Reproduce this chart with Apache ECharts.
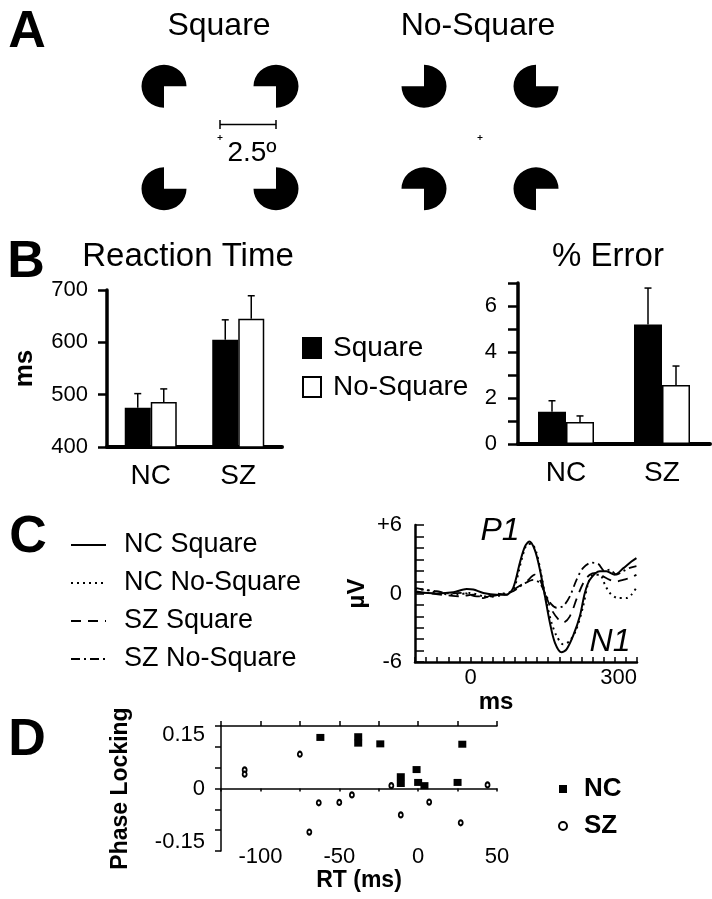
<!DOCTYPE html>
<html>
<head>
<meta charset="utf-8">
<script src="https://cdn.jsdelivr.net/npm/echarts@6/dist/echarts.min.js"></script>
<style>
html, body { margin: 0; padding: 0; background: #fff; }
#main { width: 712px; height: 899px; }
</style>
</head>
<body>
<div id="main"></div>
<script>
// ---- A: stimuli (positions in degrees of visual angle) ----
const pacmanX = [-2.5, 2.5, -2.5, 2.5];
const pacmanY = [2.5, 2.5, -2.5, -2.5];
const squareNotches = ['br', 'bl', 'tr', 'tl'];   // wedges point inward
const noSquareNotches = ['tl', 'tr', 'bl', 'br']; // wedges point outward
const fixation = [[0, 0]];
const scaleBar = [[0, 0.63], [2.5, 0.63]];

// ---- B: behaviour ----
const groups = ['NC', 'SZ'];
const rtSquare = [475, 605];
const rtNoSquare = [486, 645];
const rtSquareSem = [27, 38];
const rtNoSquareSem = [25, 44];
const errSquare = [1.4, 5.2];
const errNoSquare = [0.96, 2.57];
const errSquareSem = [0.48, 1.58];
const errNoSquareSem = [0.26, 0.82];

// ---- C: ERPs, [ms, µV] ----
const ncSquareErp = [[-100, 0.1], [-61, 0], [-31, 0.1], [-7, 0.4], [5, 0.35], [23, 0.05], [47, -0.1], [65, -0.1], [77, 0.5], [89, 2.7], [98, 4.1], [106, 4.55], [116, 3.8], [125, 2.1], [134, -0.2], [143, -2.55], [152, -4.3], [164, -5.15], [173, -4.9], [185, -3.7], [197, -2.0], [206, 0.05], [215, 1.2], [233, 1.95], [245, 1.95], [260, 1.65], [275, 2.2], [290, 2.8], [299, 3.1]];
const ncNoSquareErp = [[-100, 0.4], [-79, 0.3], [-55, 0], [-25, -0.1], [-1, 0.05], [29, -0.3], [59, -0.1], [77, 0.35], [92, 2.95], [101, 4.25], [110, 4.35], [119, 3.55], [128, 1.5], [137, -0.8], [146, -2.55], [155, -3.7], [167, -4.45], [179, -4.15], [191, -3.1], [203, -1.1], [212, 0.9], [221, 1.65], [233, 1.65], [242, 0.8], [251, 0.05], [266, -0.4], [281, -0.4], [290, -0.1], [299, 0.5]];
const szSquareErp = [[-100, 0.2], [-73, 0], [-43, -0.15], [-19, -0.25], [5, -0.1], [23, -0.4], [47, 0], [65, -0.1], [83, 0.5], [101, 1.05], [116, 1.65], [125, 1.2], [134, 0.05], [146, -1.4], [158, -2.25], [167, -2.55], [179, -2.0], [191, -0.5], [203, 0.9], [215, 1.65], [227, 1.8], [239, 1.5], [251, 1.2], [263, 1.05], [275, 1.2], [287, 1.35], [299, 1.65]];
const szNoSquareErp = [[-100, 0.5], [-85, 0.35], [-61, 0.2], [-37, 0], [-13, 0.05], [11, -0.25], [35, -0.25], [59, 0], [77, 0.2], [95, 0.8], [113, 1.2], [125, 0.9], [137, -0.25], [146, -0.95], [155, -1.25], [167, -1.1], [179, -0.25], [191, 1.2], [203, 2.25], [218, 2.7], [230, 2.6], [242, 1.95], [251, 2.1], [263, 1.65], [275, 1.95], [287, 2.25], [299, 2.4]];

// ---- D: phase locking vs RT difference, [ms, value] ----
const ncPoints = [[-62, 0.143], [-38, 0.145], [-38, 0.127], [-24, 0.125], [-11, 0.033], [-11, 0.014], [-1, 0.053], [0, 0.017], [4, 0.008], [25, 0.017], [28, 0.124]];
const szPoints = [[-110, 0.052], [-110, 0.040], [-75, 0.096], [-69, -0.122], [-63, -0.040], [-50, -0.039], [-42, -0.018], [-17, 0.008], [-11, -0.074], [7, -0.038], [27, -0.096], [44, 0.010]];
const phaseTicks = [-0.175, -0.1167, -0.0583, 0, 0.0583, 0.1167, 0.175];
const phaseLabels = [-0.15, 0, 0.15];

const FONT = '"Liberation Sans", Arial, Helvetica, sans-serif';

const notchPath = {
  tl: 'path://M1,1 L0,1 A1,1 0 1,0 1,0 Z',
  tr: 'path://M1,1 L1,0 A1,1 0 1,0 2,1 Z',
  bl: 'path://M1,1 L1,2 A1,1 0 1,0 0,1 Z',
  br: 'path://M1,1 L2,1 A1,1 0 1,0 1,2 Z'
};
const plusPath = 'path://M0,0.8 L2,0.8 L2,1.2 L0,1.2 Z M0.8,0 L1.2,0 L1.2,2 L0.8,2 Z';

function pacmen(notches) {
  return pacmanX.map((x, i) => ({ value: [x, pacmanY[i]], symbol: notchPath[notches[i]] }));
}

function errorBars(offset) {
  return function (params, api) {
    const cat = api.value(0), mean = api.value(1), sem = api.value(2);
    const p0 = api.coord([cat, mean]);
    const p1 = api.coord([cat, mean + sem]);
    const x = p0[0] + offset;
    const style = { stroke: '#000', lineWidth: 1.5 };
    return {
      type: 'group',
      children: [
        { type: 'line', shape: { x1: x, y1: p0[1], x2: x, y2: p1[1] }, style: style },
        { type: 'line', shape: { x1: x - 3.5, y1: p1[1], x2: x + 3.5, y2: p1[1] }, style: style }
      ]
    };
  };
}

function txt(text, x, y, font) {
  return {
    type: 'text', x: x, y: y, silent: true,
    style: { text: text, fill: '#000', font: font, align: 'center', verticalAlign: 'middle' }
  };
}

const hiddenAxis = (grid) => ({ gridIndex: grid, type: 'value', min: -5, max: 5, show: false });
const black = { color: '#000', opacity: 1 };
// symbols of the ERP lines are hidden, also in the legend
const noSymbol = { color: '#000', opacity: 0 };

const chart = echarts.init(document.getElementById('main'));
const option = {
  animation: false,
  textStyle: { fontFamily: FONT, color: '#000' },
  grid: [
    { left: 108, top: 35, width: 224, height: 205 },   // A square
    { left: 368, top: 35, width: 224, height: 205 },   // A no-square
    { left: 107, top: 290, width: 175, height: 157 },  // B RT
    { left: 518, top: 283, width: 192, height: 161 },  // B error
    { left: 415, top: 525, width: 222, height: 137 },  // C ERP
    { left: 221, top: 726, width: 276, height: 125 }   // D
  ],
  xAxis: [
    hiddenAxis(0),
    hiddenAxis(1),
    {
      gridIndex: 2, type: 'category', data: groups,
      axisLine: { lineStyle: { color: '#000', width: 4 } },
      axisTick: { show: false },
      axisLabel: { color: '#000', fontSize: 28, margin: 15 }
    },
    {
      gridIndex: 3, type: 'category', data: groups,
      axisLine: { lineStyle: { color: '#000', width: 4 } },
      axisTick: { show: false },
      axisLabel: { color: '#000', fontSize: 28, margin: 15 }
    },
    {
      gridIndex: 4, type: 'value', min: -100, max: 300, interval: 20,
      axisLine: { onZero: false, lineStyle: { color: '#000', width: 2.5 } },
      axisTick: { inside: true, length: 5, lineStyle: { color: '#000', width: 1.5 } },
      axisLabel: {
        color: '#000', fontSize: 22, margin: 5, alignMaxLabel: 'right',
        formatter: v => (v === 0 || v === 300) ? String(v) : ''
      },
      splitLine: { show: false },
      name: 'ms', nameLocation: 'middle', nameGap: 28,
      nameTextStyle: { fontSize: 24, fontWeight: 'bold', color: '#000', padding: [0, 60, 0, 0] }
    },
    {
      gridIndex: 5, type: 'value', min: -125, max: 50, interval: 25, position: 'bottom',
      axisLine: { onZero: true, lineStyle: { color: '#000', width: 1.5 } },
      axisTick: { length: 3, lineStyle: { color: '#000', width: 1.5 } },
      axisLabel: { show: false },
      splitLine: { show: false }
    },
    {
      gridIndex: 5, type: 'value', min: -125, max: 50, interval: 25, position: 'top',
      axisLine: { onZero: true, lineStyle: { color: '#000', width: 1.5 } },
      axisTick: { length: 5, lineStyle: { color: '#000', width: 1.5 } },
      axisLabel: { show: false },
      splitLine: { show: false }
    },
    {
      gridIndex: 5, type: 'value', min: -125, max: 50, interval: 25, position: 'bottom',
      axisLine: { show: false, onZero: false },
      axisTick: { show: false },
      axisLabel: {
        color: '#000', fontSize: 22, margin: -5,
        formatter: v => (v % 50 === 0 && v > -125) ? String(v) : ''
      },
      splitLine: { show: false },
      name: 'RT (ms)', nameLocation: 'middle', nameGap: 17,
      nameTextStyle: { fontSize: 23, fontWeight: 'bold', color: '#000' }
    }
  ],
  yAxis: [
    hiddenAxis(0),
    hiddenAxis(1),
    {
      gridIndex: 2, type: 'value', min: 400, max: 700, interval: 100,
      axisLine: { show: true, lineStyle: { color: '#000', width: 3.5 } },
      axisTick: { show: true, length: 9, lineStyle: { color: '#000', width: 2.5 } },
      axisLabel: { color: '#000', fontSize: 22, margin: 19 },
      splitLine: { show: false },
      name: 'ms', nameLocation: 'middle', nameGap: 69, nameRotate: 90,
      nameTextStyle: { fontSize: 26, fontWeight: 'bold', color: '#000' }
    },
    {
      gridIndex: 3, type: 'value', min: 0, max: 7, interval: 1,
      axisLine: { show: true, lineStyle: { color: '#000', width: 3.5 } },
      axisTick: { show: true, length: 10, lineStyle: { color: '#000', width: 2.5 } },
      axisLabel: { color: '#000', fontSize: 22, margin: 21, formatter: v => v % 2 === 0 ? String(v) : '' },
      splitLine: { show: false }
    },
    {
      gridIndex: 4, type: 'value', min: -6, max: 6, interval: 1,
      axisLine: { show: true, onZero: false, lineStyle: { color: '#000', width: 2.5 } },
      axisTick: { show: true, inside: true, length: 9, lineStyle: { color: '#000', width: 1.5 } },
      axisLabel: {
        color: '#000', fontSize: 22, margin: 13,
        formatter: v => v === 6 ? '+6' : (v === 0 ? '0' : (v === -6 ? '-6' : ''))
      },
      splitLine: { show: false },
      name: 'µV', nameLocation: 'middle', nameGap: 46, nameRotate: 90,
      nameTextStyle: { fontSize: 24, fontWeight: 'bold', color: '#000' }
    },
    {
      gridIndex: 5, type: 'value', min: -0.175, max: 0.175,
      axisLine: { show: true, onZero: false, lineStyle: { color: '#000', width: 1.5 } },
      axisTick: { show: true, length: 6, customValues: phaseTicks, lineStyle: { color: '#000', width: 1.5 } },
      axisLabel: { color: '#000', fontSize: 22, margin: 16, customValues: phaseLabels },
      splitLine: { show: false },
      name: 'Phase Locking', nameLocation: 'middle', nameGap: 89, nameRotate: 90,
      nameTextStyle: { fontSize: 23, fontWeight: 'bold', color: '#000' }
    }
  ],
  legend: [
    {
      data: ['Square', 'No-Square'], orient: 'vertical', left: 297, top: 328,
      icon: 'rect', itemWidth: 18, itemHeight: 20, itemGap: 9, selectedMode: false,
      textStyle: { fontSize: 28, lineHeight: 30, color: '#000', padding: [0, 0, 0, 7] }
    },
    {
      data: ['NC Square', 'NC No-Square', 'SZ Square', 'SZ No-Square'],
      orient: 'vertical', left: 65, top: 525, itemWidth: 35, itemHeight: 14, itemGap: 8,
      selectedMode: false, itemStyle: { opacity: 0 },
      textStyle: { fontSize: 27, lineHeight: 30, color: '#000', padding: [0, 0, 0, 13] }
    },
    {
      data: ['NC', 'SZ'], orient: 'vertical', left: 553, top: 770,
      itemWidth: 8, itemHeight: 8, itemGap: 9, selectedMode: false,
      textStyle: { fontSize: 26, lineHeight: 28, fontWeight: 'bold', color: '#000', padding: [0, 0, 0, 12] }
    }
  ],
  series: [
    // A
    { type: 'scatter', name: 'stim-sq', xAxisIndex: 0, yAxisIndex: 0, silent: true,
      symbolSize: [45, 43], itemStyle: black, data: pacmen(squareNotches) },
    { type: 'scatter', name: 'stim-nsq', xAxisIndex: 1, yAxisIndex: 1, silent: true,
      symbolSize: [45, 43], itemStyle: black, data: pacmen(noSquareNotches) },
    { type: 'scatter', name: 'fix-sq', xAxisIndex: 0, yAxisIndex: 0, silent: true,
      symbol: plusPath, symbolSize: 5, itemStyle: black, data: fixation },
    { type: 'scatter', name: 'fix-nsq', xAxisIndex: 1, yAxisIndex: 1, silent: true,
      symbol: plusPath, symbolSize: 5, itemStyle: black, data: fixation },
    { type: 'line', name: 'scale', xAxisIndex: 0, yAxisIndex: 0, silent: true,
      symbol: 'rect', symbolSize: [1.5, 9], showSymbol: true, itemStyle: black,
      lineStyle: { color: '#000', width: 1.5 }, data: scaleBar },
    // B
    { type: 'bar', name: 'Square', xAxisIndex: 2, yAxisIndex: 2, barWidth: 26, barGap: '0%',
      itemStyle: { color: '#000', borderColor: '#000', borderWidth: 1.5 }, data: rtSquare },
    { type: 'bar', name: 'No-Square', xAxisIndex: 2, yAxisIndex: 2, barWidth: 26, barGap: '0%',
      itemStyle: { color: '#fff', borderColor: '#000', borderWidth: 1.5 }, data: rtNoSquare },
    { type: 'custom', xAxisIndex: 2, yAxisIndex: 2, renderItem: errorBars(-13), z: 5,
      encode: { x: 0, y: 1 }, data: rtSquare.map((v, i) => [i, v, rtSquareSem[i]]) },
    { type: 'custom', xAxisIndex: 2, yAxisIndex: 2, renderItem: errorBars(13), z: 5,
      encode: { x: 0, y: 1 }, data: rtNoSquare.map((v, i) => [i, v, rtNoSquareSem[i]]) },
    { type: 'bar', name: 'Square', xAxisIndex: 3, yAxisIndex: 3, barWidth: 28, barGap: '0%',
      itemStyle: { color: '#000', borderColor: '#000', borderWidth: 1.5 }, data: errSquare },
    { type: 'bar', name: 'No-Square', xAxisIndex: 3, yAxisIndex: 3, barWidth: 28, barGap: '0%',
      itemStyle: { color: '#fff', borderColor: '#000', borderWidth: 1.5 }, data: errNoSquare },
    { type: 'custom', xAxisIndex: 3, yAxisIndex: 3, renderItem: errorBars(-14), z: 5,
      encode: { x: 0, y: 1 }, data: errSquare.map((v, i) => [i, v, errSquareSem[i]]) },
    { type: 'custom', xAxisIndex: 3, yAxisIndex: 3, renderItem: errorBars(14), z: 5,
      encode: { x: 0, y: 1 }, data: errNoSquare.map((v, i) => [i, v, errNoSquareSem[i]]) },
    // C
    { type: 'line', name: 'NC Square', xAxisIndex: 4, yAxisIndex: 4, symbol: 'none', smooth: 0.3,
      itemStyle: noSymbol, lineStyle: { color: '#000', width: 2, type: 'solid' }, data: ncSquareErp },
    { type: 'line', name: 'NC No-Square', xAxisIndex: 4, yAxisIndex: 4, symbol: 'none', smooth: 0.3,
      itemStyle: noSymbol, lineStyle: { color: '#000', width: 2, type: [2, 4] }, data: ncNoSquareErp },
    { type: 'line', name: 'SZ Square', xAxisIndex: 4, yAxisIndex: 4, symbol: 'none', smooth: 0.3,
      itemStyle: noSymbol, lineStyle: { color: '#000', width: 1.8, type: [10, 7] }, data: szSquareErp },
    { type: 'line', name: 'SZ No-Square', xAxisIndex: 4, yAxisIndex: 4, symbol: 'none', smooth: 0.3,
      itemStyle: noSymbol, lineStyle: { color: '#000', width: 1.8, type: [9, 4, 2, 4] }, data: szNoSquareErp },
    // D
    { type: 'scatter', name: 'NC', xAxisIndex: 5, yAxisIndex: 5, symbol: 'rect', symbolSize: [8, 7],
      itemStyle: black, data: ncPoints, z: 4 },
    { type: 'scatter', name: 'SZ', xAxisIndex: 5, yAxisIndex: 5, symbol: 'emptyCircle', symbolSize: [4, 5],
      itemStyle: { color: '#000', borderColor: '#000', borderWidth: 1, opacity: 1 }, data: szPoints, z: 4 }
  ],
  graphic: {
    elements: [
      txt('A', 27, 33, 'bold 52px ' + FONT),
      txt('B', 26, 263, 'bold 52px ' + FONT),
      txt('C', 28, 538, 'bold 52px ' + FONT),
      txt('D', 27, 741, 'bold 52px ' + FONT),
      txt('Square', 219, 26, '32px ' + FONT),
      txt('No-Square', 478, 26, '32px ' + FONT),
      txt('2.5º', 252, 153, '28px ' + FONT),
      txt('Reaction Time', 188, 257, '33px ' + FONT),
      txt('% Error', 608, 257, '33px ' + FONT),
      txt('P1', 500, 531, 'italic 32px ' + FONT),
      txt('N1', 610, 642, 'italic 32px ' + FONT)
    ]
  }
};
chart.setOption(option);
</script>
</body>
</html>
